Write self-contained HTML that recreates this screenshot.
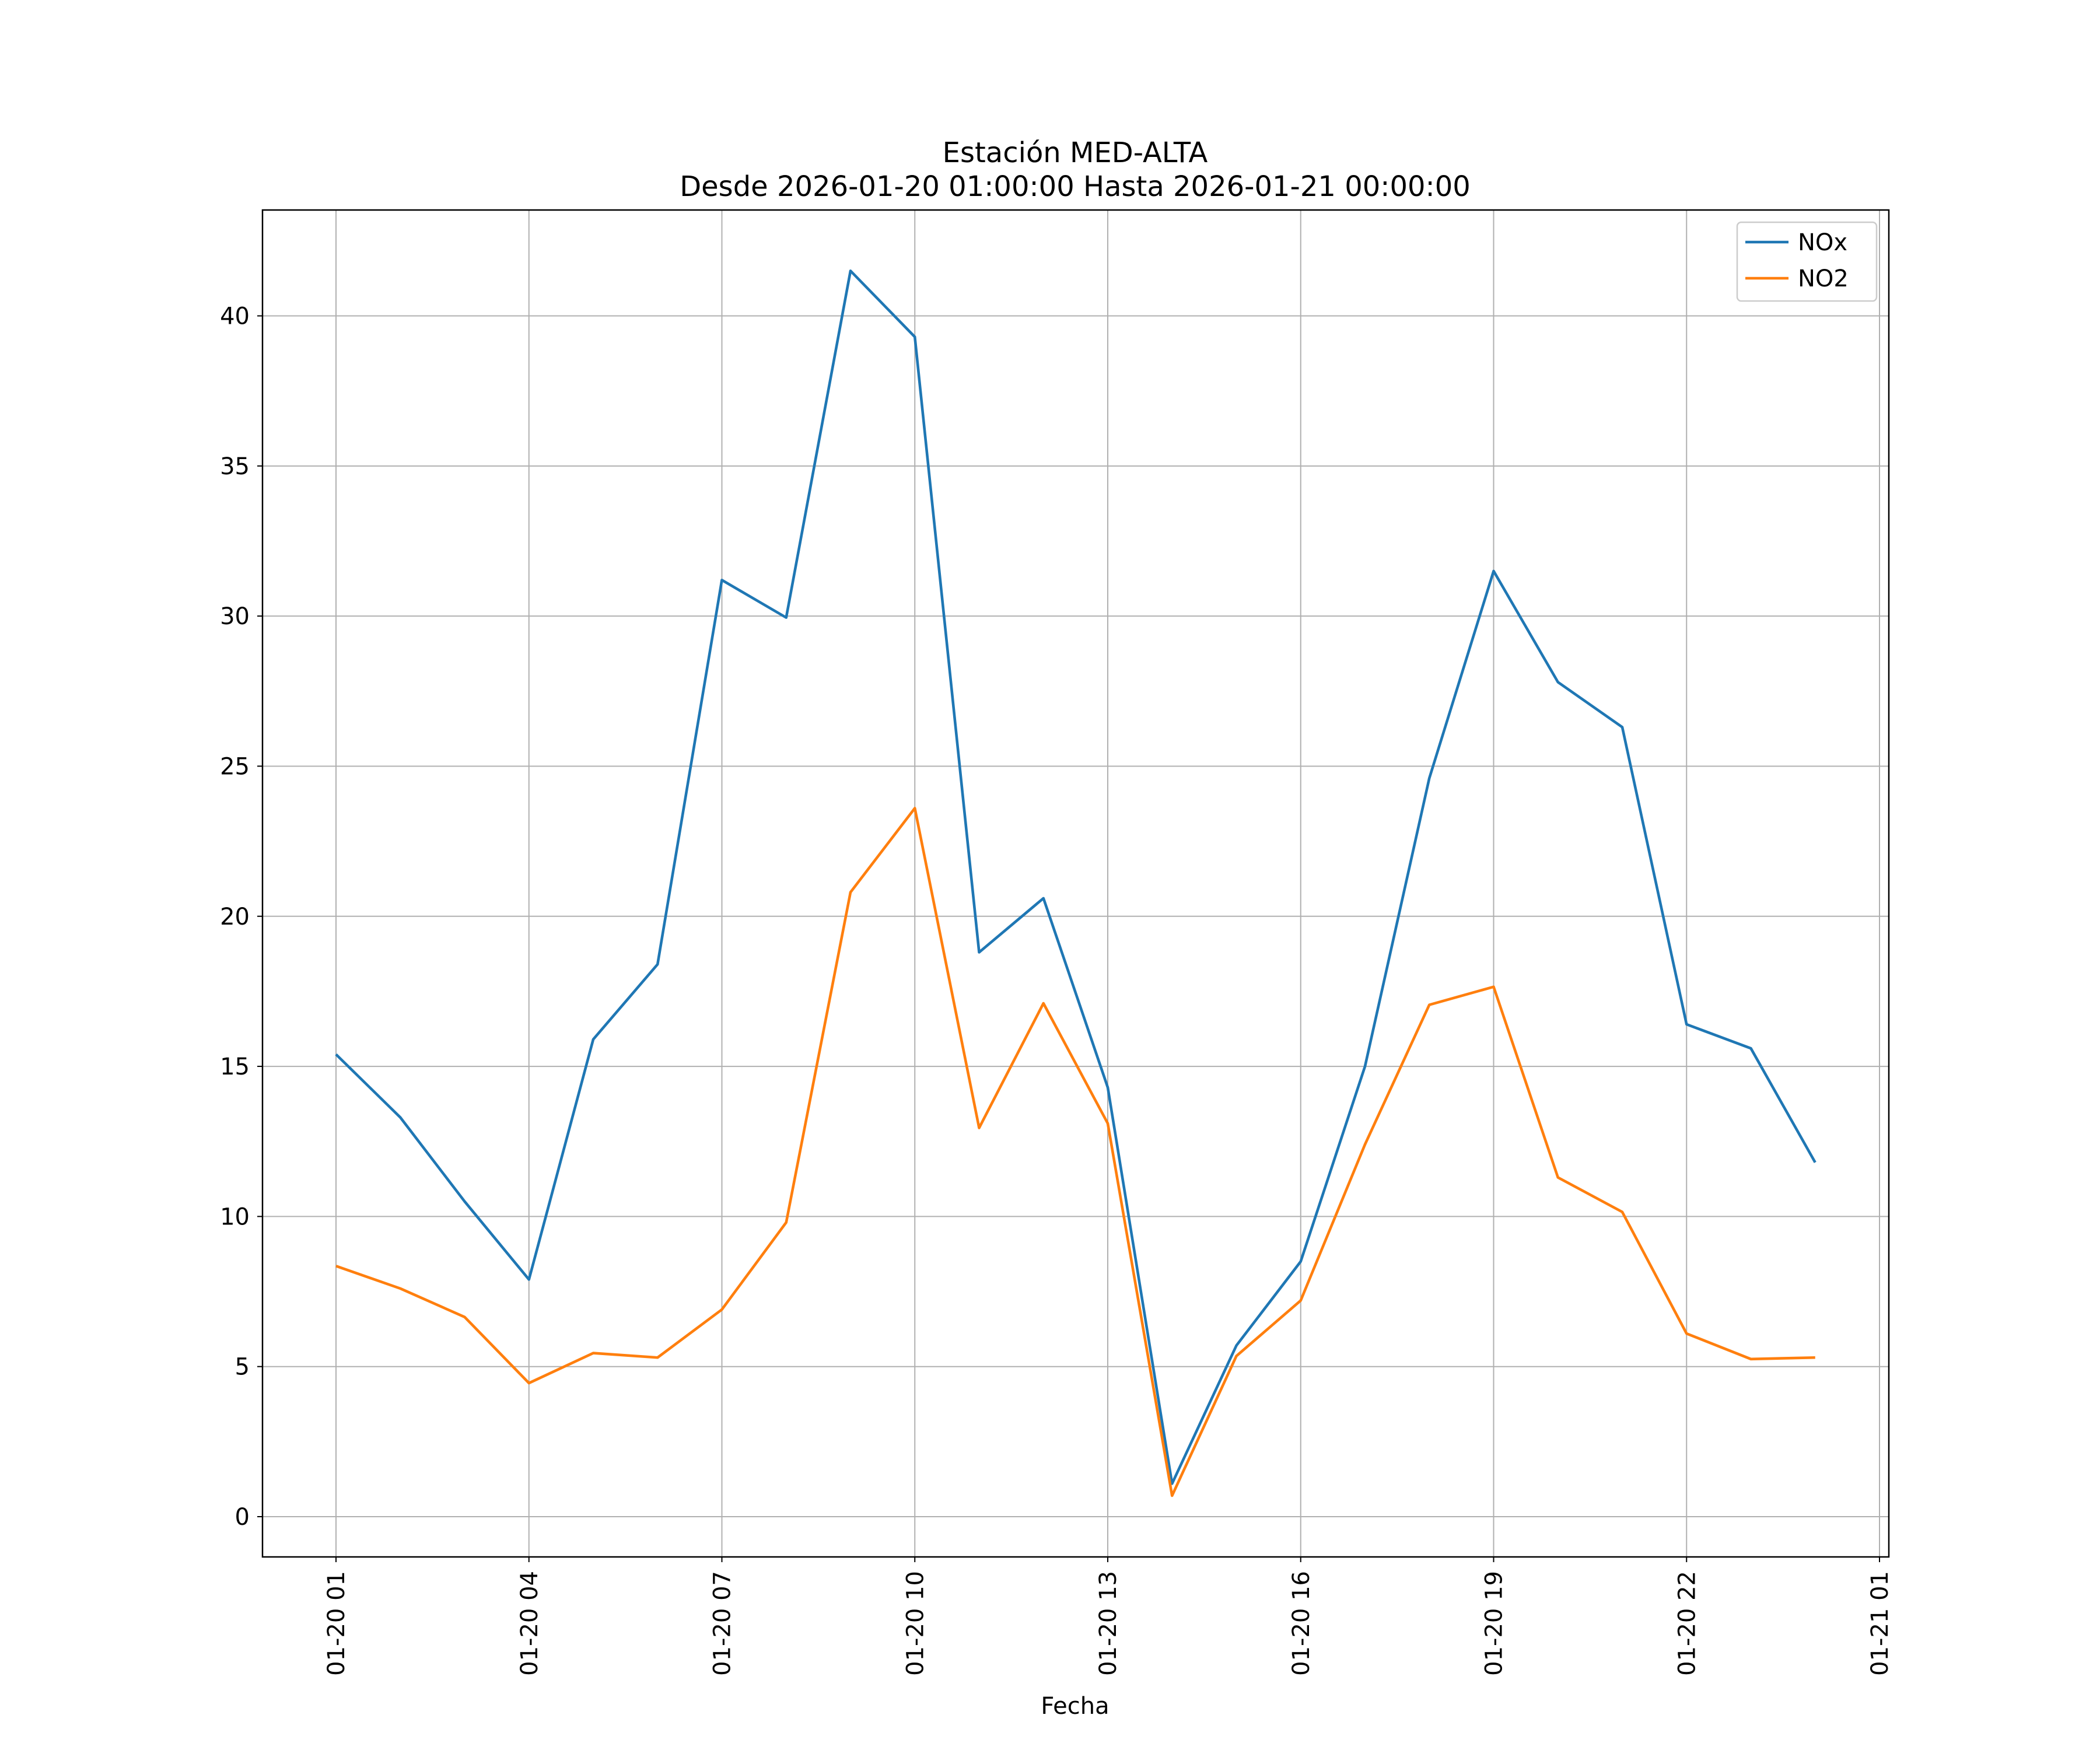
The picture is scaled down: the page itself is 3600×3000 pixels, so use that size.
<!DOCTYPE html>
<html><head><meta charset="utf-8"><style>
html,body{margin:0;padding:0;background:#fff}
svg{display:block;font-family:"DejaVu Sans","Liberation Sans",sans-serif}
</style></head><body>
<svg id="chart" width="3600" height="3000" viewBox="0 0 3600 3000" xmlns="http://www.w3.org/2000/svg">
<rect width="3600" height="3000" fill="#fff"/>
<text x="1843" y="278" font-size="48" text-anchor="middle">Estación MED-ALTA</text>
<text x="1843" y="336" font-size="48" text-anchor="middle">Desde 2026-01-20 01:00:00 Hasta 2026-01-21 00:00:00</text>
<g id="grid"></g>
<g id="series"></g>
<rect x="450" y="360" width="2788" height="2309" fill="none" stroke="#000" stroke-width="2.5"/>
<g id="axes"></g>
<text x="1843" y="2938" font-size="40" text-anchor="middle">Fecha</text>
<g>
<rect x="2978" y="381" width="239" height="135" rx="7" fill="#fff" fill-opacity="0.8" stroke="#ccc" stroke-width="2.5"/>
<g><line x1="2992" y1="415" x2="3066" y2="415" stroke="#1f77b4" stroke-width="4.6"/><text x="3082" y="429" font-size="40">NOx</text></g>
<g><line x1="2992" y1="477" x2="3066" y2="477" stroke="#ff7f0e" stroke-width="4.6"/><text x="3082" y="491" font-size="40">NO2</text></g>
</g>
</svg>
<script>
const hours = [1,2,3,4,5,6,7,8,9,10,11,12,13,14,15,16,17,18,19,20,21,22,23,24];
const noxValues = [15.4,13.3,10.5,7.9,15.9,18.4,31.2,29.95,41.5,39.3,18.8,20.6,14.3,1.1,5.7,8.5,15.0,24.6,31.5,27.8,26.3,16.4,15.6,11.8];
const no2Values = [8.35,7.6,6.65,4.45,5.45,5.3,6.9,9.8,20.8,23.6,12.95,17.1,13.1,0.7,5.35,7.2,12.4,17.05,17.65,11.3,10.15,6.1,5.25,5.3];
const yTicks = [0,5,10,15,20,25,30,35,40];
const xTickHours = [1,4,7,10,13,16,19,22,25];
const xTickLabels = ["01-20 01","01-20 04","01-20 07","01-20 10","01-20 13","01-20 16","01-20 19","01-20 22","01-21 01"];

const NS="http://www.w3.org/2000/svg";
const L=450,R=3238,T=360,B=2669;
function xs(h){return 576+(h-1)*(3222-576)/24;}
function ys(v){return 2600-v*(2600-541.5)/40;}
function mk(tag,attrs,parent){const e=document.createElementNS(NS,tag);for(const k in attrs)e.setAttribute(k,attrs[k]);parent.appendChild(e);return e;}
const grid=document.getElementById('grid'),axes=document.getElementById('axes'),series=document.getElementById('series');
yTicks.forEach(v=>{
  const y=ys(v);
  const g=mk('line',{x1:L,x2:R,y1:y,y2:y,stroke:'#b0b0b0','stroke-width':2},grid);
  
  
  mk('line',{x1:L-9,x2:L,y1:y,y2:y,stroke:'#000','stroke-width':2},axes);
  const t=mk('text',{x:L-22,y:y+14,'font-size':40,'text-anchor':'end'},axes);
  t.textContent=String(v);
  
  
});
xTickHours.forEach((h,i)=>{
  const x=xs(h);
  const g=mk('line',{x1:x,x2:x,y1:T,y2:B,stroke:'#b0b0b0','stroke-width':2},grid);
  
  
  mk('line',{x1:x,x2:x,y1:B,y2:B+9,stroke:'#000','stroke-width':2},axes);
  const t=mk('text',{x:0,y:0,'font-size':40,'text-anchor':'end',transform:`translate(${x+14},${B+24}) rotate(-90)`},axes);
  t.textContent=xTickLabels[i];
  
  
});
function line(vals,color,name){
  const p=mk('polyline',{points:hours.map((h,i)=>xs(h)+','+ys(vals[i])).join(' '),fill:'none',stroke:color,'stroke-width':4.6,'stroke-linejoin':'round'},series);
  
  
}
line(noxValues,'#1f77b4','nox-line');
line(no2Values,'#ff7f0e','no2-line');
</script>
</body></html>
